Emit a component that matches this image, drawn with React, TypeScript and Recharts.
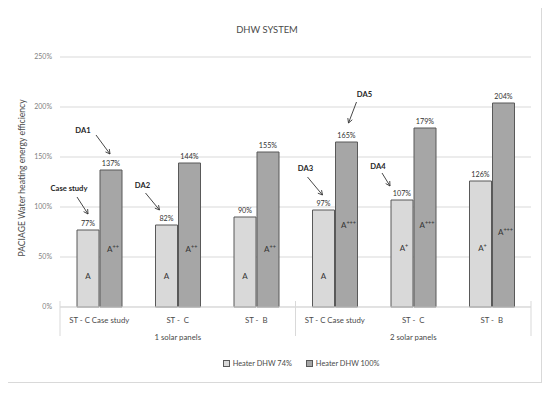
import React from 'react';
import { BarChart, Bar, XAxis, YAxis, CartesianGrid, Legend, LabelList } from 'recharts';

const categories = ['ST - C Case study', 'ST -  C', 'ST -  B', 'ST - C Case study', 'ST -  C', 'ST -  B'];
const groupNames = ['1 solar panels', '2 solar panels'];
const groupOf = [0, 0, 0, 1, 1, 1];
const heater74 = [77, 82, 90, 97, 107, 126];
const heater100 = [137, 144, 155, 165, 179, 204];
const grade74 = ['A', 'A', 'A', 'A', 'A+', 'A+'];
const grade100 = ['A++', 'A++', 'A++', 'A+++', 'A+++', 'A+++'];
// level (in % units) at which each energy-class label sits inside the bar
const grade74At = [31, 31, 31, 31, 59, 59];
const grade100At = [58, 58, 58, 82, 82, 75];
const yTicks = [0, 50, 100, 150, 200, 250];

// callouts: which bar they point to and text/arrow offsets from bar top centre
const callouts = [
  { series: 'h74', index: 0, text: 'Case study', tx: -19, ty: -42, ax1: -11, ay1: -33, ax2: 0, ay2: -16 },
  { series: 'h100', index: 0, text: 'DA1', tx: -28, ty: -40, ax1: -15, ay1: -35, ax2: -1, ay2: -16 },
  { series: 'h74', index: 1, text: 'DA2', tx: -24, ty: -40, ax1: -21, ay1: -32, ax2: -7, ay2: -15 },
  { series: 'h74', index: 3, text: 'DA3', tx: -18, ty: -42, ax1: -16, ay1: -33, ax2: -1, ay2: -15 },
  { series: 'h74', index: 4, text: 'DA4', tx: -24, ty: -34, ax1: -20, ay1: -27, ax2: -12, ay2: -14 },
  { series: 'h100', index: 3, text: 'DA5', tx: 18, ty: -48, ax1: 10, ay1: -40, ax2: 2, ay2: -19 },
];

const data = categories.map((c, i) => ({
  id: i,
  name: c,
  h74: heater74[i],
  h100: heater100[i],
  g74: grade74[i],
  g100: grade100[i],
  g74At: grade74At[i],
  g100At: grade100At[i],
}));

const W = 550;
const H = 393;
const M = { top: 57, right: 19, left: 6, bottom: 20 };
const Y_W = 54;
const X_H = 46;
const PLOT_W = W - M.left - M.right - Y_W;
const PLOT_H = H - M.top - M.bottom - X_H - 20;
const BAND = PLOT_W / categories.length;
const FONT = "Lato, 'Open Sans', sans-serif";
const TXT = '#4a4a4a';
const DARK = '#333333';
const LIGHT_FILL = '#d9d9d9';
const DARK_FILL = '#a6a6a6';
const STROKE = '#595959';

const CategoryTick = (props: any) => {
  const { x, y, payload } = props;
  const i = payload.index;
  const els: any[] = [];
  els.push(
    <text key="c" x={x} y={y + 14} textAnchor="middle" fontSize={7.8} fill={TXT} fontFamily={FONT} style={{ whiteSpace: 'pre' }}>
      {categories[i]}
    </text>
  );
  if (i === 1 || i === 4) {
    els.push(
      <text key="g" x={x} y={y + 31} textAnchor="middle" fontSize={7.8} fill={TXT} fontFamily={FONT}>
        {groupNames[groupOf[i]]}
      </text>
    );
  }
  if (i === 0 || i === 3) {
    els.push(<line key="l" x1={x - BAND / 2} x2={x - BAND / 2} y1={y - 8} y2={y + 27} stroke="#d9d9d9" />);
  }
  if (i === categories.length - 1) {
    els.push(<line key="r" x1={x + BAND / 2} x2={x + BAND / 2} y1={y - 8} y2={y + 27} stroke="#d9d9d9" />);
  }
  return <g>{els}</g>;
};

const gradeText = (g: string) => {
  const base = g.replace(/\+/g, '');
  const sup = g.slice(base.length);
  return { base, sup };
};

const makeGradeLabel = (atKey: 'g74At' | 'g100At', gKey: 'g74' | 'g100') => (props: any) => {
  const { x, width, index, value } = props;
  const row = data[index];
  const top = props.y;
  const barH = props.height;
  const unit = barH / value;
  const bottom = top + barH;
  const cy = bottom - row[atKey] * unit;
  const { base, sup } = gradeText(row[gKey]);
  return (
    <text x={x + width / 2 + (sup ? 2 : 0)} y={cy} dy={3} textAnchor="middle" fontSize={8} fill={DARK} fontFamily={FONT}>
      {base}
      {sup ? (
        <tspan fontSize={5.5} dy={-3}>
          {sup}
        </tspan>
      ) : null}
    </text>
  );
};

const makeValueLabel = (series: 'h74' | 'h100') => (props: any) => {
  const { x, y, width, value, index } = props;
  const cx = x + width / 2;
  const items = callouts.filter((c) => c.series === series && c.index === index);
  return (
    <g>
      <text x={cx} y={y - 7} dy={3} textAnchor="middle" fontSize={7.2} fill={DARK} fontFamily={FONT}>
        {value + '%'}
      </text>
      {items.map((c, k) => {
        const x1 = cx + c.ax1;
        const y1 = y + c.ay1;
        const x2 = cx + c.ax2;
        const y2 = y + c.ay2;
        const ang = Math.atan2(y2 - y1, x2 - x1);
        const hl = 5;
        const spread = 0.5;
        const p1 = [x2 - hl * Math.cos(ang - spread), y2 - hl * Math.sin(ang - spread)];
        const p2 = [x2 - hl * Math.cos(ang + spread), y2 - hl * Math.sin(ang + spread)];
        return (
          <g key={k}>
            <text x={cx + c.tx} y={y + c.ty} dy={3} textAnchor="middle" fontSize={7.6} fontWeight="bold" fill="#262626" fontFamily={FONT}>
              {c.text}
            </text>
            <line x1={x1} y1={y1} x2={x2} y2={y2} stroke={DARK} strokeWidth={0.9} />
            <polyline points={`${p1[0]},${p1[1]} ${x2},${y2} ${p2[0]},${p2[1]}`} fill="none" stroke={DARK} strokeWidth={0.9} />
          </g>
        );
      })}
    </g>
  );
};

const LegendContent = () => (
  <div style={{ height: 20, display: 'flex', alignItems: 'center', justifyContent: 'center', fontFamily: FONT, fontSize: 7.4, color: TXT, paddingLeft: 65 }}>
    <span style={{ display: 'inline-flex', alignItems: 'center', marginRight: 14 }}>
      <span style={{ width: 5, height: 5, background: LIGHT_FILL, border: `1px solid ${STROKE}`, marginRight: 3 }} />
      Heater DHW 74%
    </span>
    <span style={{ display: 'inline-flex', alignItems: 'center' }}>
      <span style={{ width: 5, height: 5, background: DARK_FILL, border: `1px solid ${STROKE}`, marginRight: 3 }} />
      Heater DHW 100%
    </span>
  </div>
);

export default function App() {
  return (
    <div style={{ position: 'relative', width: W, height: H, margin: -8, background: '#fff' }}>
      <div style={{ position: 'absolute', left: 0, top: 0 }}>
        <BarChart width={W} height={H} data={data} margin={M} barSize={22} barGap={1}>
          <rect x={6.5} y={7.5} width={535} height={375} fill="none" stroke="#d9d9d9" />
          <text x={267} y={29} dy={4} textAnchor="middle" fontSize={9.4} fill={TXT} fontFamily={FONT}>
            DHW SYSTEM
          </text>
          <text
            x={22}
            y={M.top + PLOT_H / 2 - 4}
            transform={`rotate(-90 22 ${M.top + PLOT_H / 2 - 4})`}
            dy={3}
            textAnchor="middle"
            fontSize={8.6}
            fill={TXT}
            fontFamily={FONT}
          >
            PACIAGE Water heating energy efficiency
          </text>
          <CartesianGrid vertical={false} stroke="#d9d9d9" />
          <XAxis
            dataKey="id"
            type="category"
            height={X_H}
            tick={<CategoryTick />}
            tickLine={false}
            axisLine={{ stroke: '#d9d9d9' }}
            interval={0}
            tickSize={0}
          />
          <YAxis
            width={Y_W}
            domain={[0, 250]}
            ticks={yTicks}
            tickFormatter={(v: number) => v + '%'}
            tick={{ fontSize: 7, fill: '#7f7f7f', fontFamily: FONT }}
            tickLine={false}
            axisLine={false}
            tickSize={0}
            tickMargin={8}
          />
          <Legend verticalAlign="bottom" height={20} content={<LegendContent />} />
          <Bar dataKey="h74" name="Heater DHW 74%" fill={LIGHT_FILL} stroke={STROKE} strokeWidth={1} isAnimationActive={false}>
            <LabelList dataKey="h74" content={makeValueLabel('h74')} />
            <LabelList dataKey="h74" content={makeGradeLabel('g74At', 'g74')} />
          </Bar>
          <Bar dataKey="h100" name="Heater DHW 100%" fill={DARK_FILL} stroke={STROKE} strokeWidth={1} isAnimationActive={false}>
            <LabelList dataKey="h100" content={makeValueLabel('h100')} />
            <LabelList dataKey="h100" content={makeGradeLabel('g100At', 'g100')} />
          </Bar>
        </BarChart>
      </div>
    </div>
  );
}
